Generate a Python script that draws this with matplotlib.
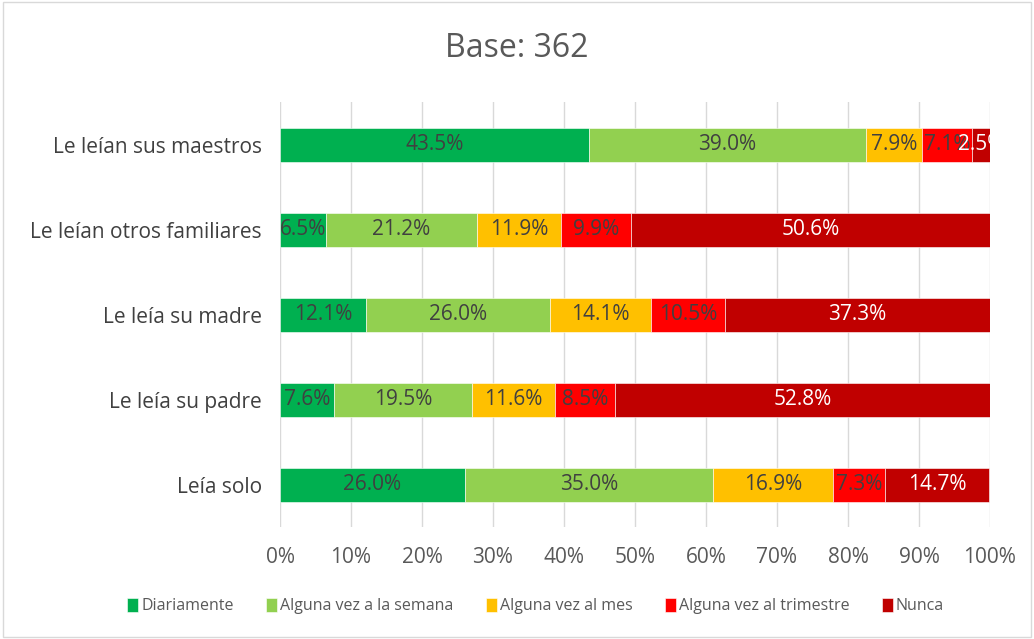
import numpy as np
import matplotlib.pyplot as plt
from matplotlib.patches import Rectangle

plt.rcParams['font.family'] = ['Open Sans', 'DejaVu Sans']

categories = ['Le leían sus maestros', 'Le leían otros familiares', 'Le leía su madre',
              'Le leía su padre', 'Leía solo']
series = ['Diariamente', 'Alguna vez a la semana', 'Alguna vez al mes',
          'Alguna vez al trimestre', 'Nunca']
values = [
    [43.5, 6.5, 12.1, 7.6, 26.0],
    [39.0, 21.2, 26.0, 19.5, 35.0],
    [7.9, 11.9, 14.1, 11.6, 16.9],
    [7.1, 9.9, 10.5, 8.5, 7.3],
    [2.5, 50.6, 37.3, 52.8, 14.7],
]
colors = ['#00B050', '#92D050', '#FFC000', '#FF0000', '#C00000']
label_colors = ['#404040', '#404040', '#404040', '#404040', 'white']
xticks = [0, 10, 20, 30, 40, 50, 60, 70, 80, 90, 100]

fig = plt.figure(figsize=(10.34, 6.39), dpi=100)
ax = fig.add_axes([0.2708, 0.175, 0.6866, 0.665])

y = np.arange(len(categories))[::-1]
left = np.zeros(len(categories))
for vals, name, col, lc in zip(values, series, colors, label_colors):
    vals = np.array(vals)
    bars = ax.barh(y, vals, left=left, height=0.4, color=col, label=name,
                   edgecolor='white', linewidth=0.4, zorder=3)
    ax.bar_label(bars, labels=['%.1f%%' % v for v in vals], label_type='center',
                 color=lc, fontsize=15)
    left += vals

ax.set_xlim(0, 100)
ax.set_ylim(-0.5, 4.5)
ax.set_xticks(xticks)
ax.set_xticklabels(['%d%%' % t for t in xticks], fontsize=15, color='#595959')
ax.set_yticks(y)
ax.set_yticklabels(categories, fontsize=15, color='#404040')
ax.tick_params(length=0, pad=13)
ax.tick_params(axis='x', pad=14)
ax.grid(axis='x', color='#D9D9D9', linewidth=1, zorder=0)
for s in ax.spines.values():
    s.set_visible(False)

fig.suptitle('Base: 362', y=0.95, fontsize=23, color='#595959')

fig.legend(loc='center', bbox_to_anchor=(0.518, 0.051), ncol=5, frameon=False,
           fontsize=11.5, handlelength=0.7, handleheight=0.9, handletextpad=0.2,
           columnspacing=2.0, labelcolor='#595959')

fig.patches.append(Rectangle((0.003, 0.003), 0.994, 0.994, transform=fig.transFigure,
                             fill=False, edgecolor='#D9D9D9', linewidth=1))

fig.savefig('out.png', dpi=100)
